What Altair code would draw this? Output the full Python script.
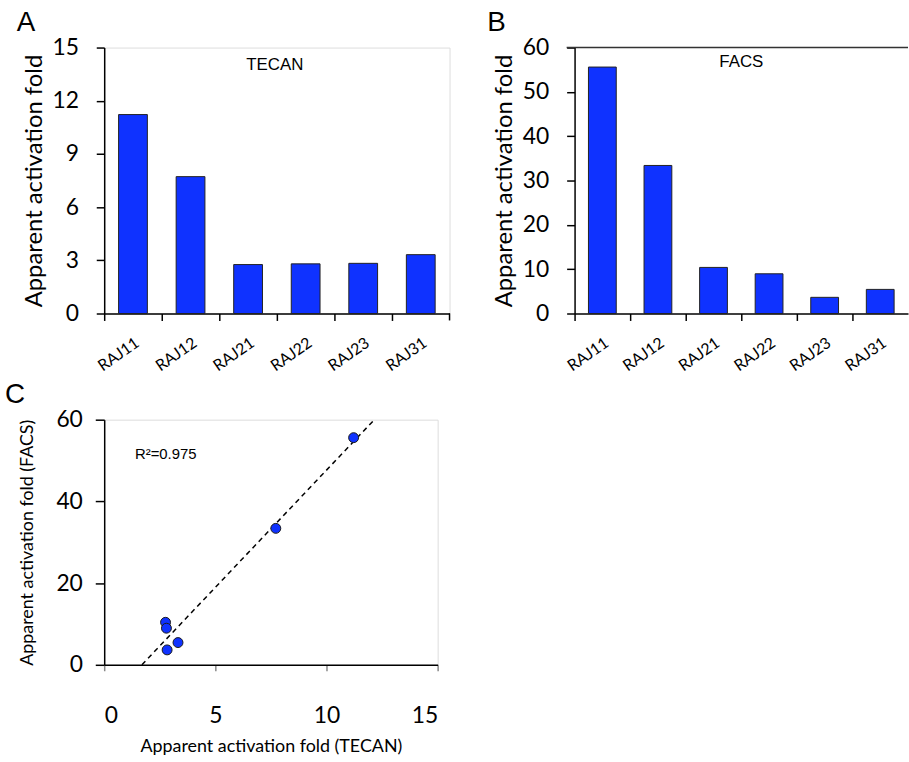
import altair as alt
import pandas as pd
import numpy as np

# ---- data ----
strains = ["RAJ11", "RAJ12", "RAJ21", "RAJ22", "RAJ23", "RAJ31"]
tecan = [11.22, 7.72, 2.76, 2.80, 2.83, 3.32]
facs = [55.6, 33.4, 10.4, 8.96, 3.65, 5.44]
tecan_ticks = [0, 3, 6, 9, 12, 15]
facs_ticks = [0, 10, 20, 30, 40, 50, 60]
sc_x_ticks = [0, 5, 10, 15]
sc_y_ticks = [0, 20, 40, 60]
r2_text = ["R²=0.975"]

df = pd.DataFrame({"strain": strains, "tecan": tecan, "facs": facs})

BLUE = "#0f32ff"
NUM_FONT = "Lato"
TXT_FONT = "Liberation Sans"

# regression line, extended to the scatter's y range (0..60)
slope, intercept = np.polyfit(tecan, facs, 1)
x_lo = (sc_y_ticks[0] - intercept) / slope
x_hi = (sc_y_ticks[-1] - intercept) / slope


def letter_title(letter, dx, offset):
    return alt.TitleParams(letter, anchor="start", frame="group", dx=dx, offset=offset,
                           font=TXT_FONT, fontSize=28, fontWeight="normal", color="black")


def bar_panel(field, ticks, letter, inset_label, inset_x, inset_y, width, frame):
    height = 268
    step = width / len(strains)
    base = alt.Chart(df)
    bars = base.mark_bar(color=BLUE, stroke="#222", strokeWidth=1, size=step * 0.5).encode(
        x=alt.X("strain:N", sort=strains, title=None,
                scale=alt.Scale(paddingInner=0, paddingOuter=0),
                axis=alt.Axis(bandPosition=0, labelAngle=325,
                              labelFont=NUM_FONT, labelFontSize=16, labelColor="black",
                              labelPadding=14, tickSize=7, tickColor="black", tickWidth=1.5,
                              domainColor="black", domainWidth=1.5)),
        y=alt.Y(f"{field}:Q", scale=alt.Scale(domain=[ticks[0], ticks[-1]], nice=False),
                axis=alt.Axis(values=ticks, title="Apparent activation fold",
                              labelFont=NUM_FONT, labelFontSize=23, labelColor="black",
                              labelPadding=18, tickSize=8, tickColor="black", tickWidth=1.5,
                              domainColor="black", domainWidth=1.5, grid=False,
                              titleFont=NUM_FONT, titleFontSize=24, titleFontWeight="normal",
                              titleColor="black", titlePadding=6)),
    )
    txt = alt.Chart(pd.DataFrame({"t": [inset_label]})).mark_text(
        font=TXT_FONT, fontSize=17, color="black", align="center", baseline="middle"
    ).encode(text="t:N", x=alt.value(inset_x), y=alt.value(inset_y))
    layers = [bars, txt]
    if frame:
        end_tick = alt.Chart(pd.DataFrame({"t": [0]})).mark_rule(color="black", strokeWidth=1.5).encode(
            x=alt.value(width), y=alt.value(height), y2=alt.value(height + 7))
        layers.append(end_tick)
    else:
        top = alt.Chart(pd.DataFrame({"t": [0]})).mark_rule(color="#333", strokeWidth=1.5).encode(
            x=alt.value(-8), x2=alt.value(width), y=alt.value(0))
        layers.append(top)
    ch = alt.layer(*layers).properties(width=width, height=height,
                                         title=letter_title(letter, -88, 0))
    if not frame:
        ch = ch.properties(view=alt.ViewBackground(strokeOpacity=0))
    return ch


panel_a = bar_panel("tecan", tecan_ticks, "A", "TECAN", 172, 18, 348, True)
panel_b = bar_panel("facs", facs_ticks, "B", "FACS", 168, 15, 336, False)

sc_base = alt.Chart(df)
x_enc = alt.X("tecan:Q", scale=alt.Scale(domain=[0, 15], nice=False),
              axis=alt.Axis(values=sc_x_ticks, title="Apparent activation fold (TECAN)",
                            labelFont=NUM_FONT, labelFontSize=23, labelColor="black",
                            labelPadding=34, tickSize=6, tickColor="#888", tickWidth=1.5,
                            domainColor="black", domainWidth=1.5, grid=False,
                            titleFont=NUM_FONT, titleFontSize=18, titleFontWeight="normal",
                            titleColor="black", titlePadding=10))
y_enc = alt.Y("facs:Q", scale=alt.Scale(domain=[0, 60], nice=False),
              axis=alt.Axis(values=sc_y_ticks, title="Apparent activation fold (FACS)",
                            labelFont=NUM_FONT, labelFontSize=23, labelColor="black",
                            labelPadding=13, tickSize=9, tickColor="black", tickWidth=1.5,
                            domainColor="black", domainWidth=1.5, grid=False,
                            titleFont=NUM_FONT, titleFontSize=18, titleFontWeight="normal",
                            titleColor="black", titlePadding=20))

fit_line = sc_base.transform_regression("tecan", "facs", extent=[x_lo, x_hi]).mark_line(
    color="black", strokeWidth=1.5, strokeDash=[5, 4]).encode(x=x_enc, y=y_enc)
points = sc_base.mark_point(filled=True, fill=BLUE, stroke="#1a1a1a", strokeWidth=1,
                            size=100, opacity=1).encode(x=x_enc, y=y_enc)
r2 = alt.Chart(pd.DataFrame({"t": r2_text})).mark_text(
    font=TXT_FONT, fontSize=15, color="black", align="left", baseline="middle"
).encode(text="t:N", x=alt.value(31), y=alt.value(35))

panel_c = alt.layer(fit_line, points, r2).properties(
    width=336, height=247, title=letter_title("C", -100, 0))

chart = alt.vconcat(
    alt.hconcat(panel_a, panel_b, spacing=36),
    panel_c,
    spacing=5,
).properties(padding={"left": 4, "top": 5, "right": 0, "bottom": 0}).configure_view(
    stroke="#333", strokeWidth=1.5
).configure(background="white")

chart.save("out.html", embed_options={"renderer": "svg", "actions": False})
